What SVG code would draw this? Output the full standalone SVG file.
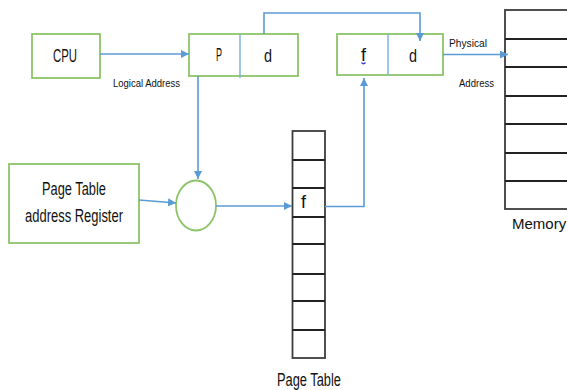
<svg xmlns="http://www.w3.org/2000/svg" width="567" height="390" viewBox="0 0 567 390">
<defs>
<style>
.box{fill:#fff;stroke:#8CC46A;stroke-width:1.8}
.div{stroke:#7EB3E0;stroke-width:1.5}
.con{fill:none;stroke:#5B9BD5;stroke-width:1.6}
.tbl{fill:#fff;stroke:#3C3C3C;stroke-width:1.8}
.row{stroke:#222;stroke-width:1.8}
text{font-family:"Liberation Sans",Arial,sans-serif;fill:#111}
.big{font-size:17.5px}
.sm{font-size:10px}
</style>
<marker id="ah" viewBox="0 0 10 10" refX="10" refY="5" markerWidth="8" markerHeight="8" markerUnits="userSpaceOnUse" orient="auto">
<path d="M0,0 L10,5 L0,10 z" fill="#5B9BD5"/>
</marker>
</defs>
<rect width="567" height="390" fill="#fff"/>

<g id="cpu">
<rect class="box" x="32" y="34" width="68" height="44"/>
<text class="big" x="53" y="62" textLength="24" lengthAdjust="spacingAndGlyphs">CPU</text>
</g>

<g id="logical">
<rect class="box" x="189" y="34" width="109" height="42"/>
<line class="div" x1="240" y1="34" x2="240" y2="78"/>
<text class="big" x="216" y="61" textLength="6" lengthAdjust="spacingAndGlyphs">P</text>
<text class="big" x="264" y="62" textLength="8" lengthAdjust="spacingAndGlyphs">d</text>
</g>

<g id="physical">
<rect class="box" x="337" y="34" width="106" height="41"/>
<line class="div" x1="388" y1="34" x2="388" y2="75"/>
<text class="big" x="361" y="61" textLength="5" lengthAdjust="spacingAndGlyphs">f</text>
<path d="M361.5,62.5 q2,2.5 4,0" fill="none" stroke="#3B3BE0" stroke-width="1.3"/>
<text class="big" x="409" y="62" textLength="8" lengthAdjust="spacingAndGlyphs">d</text>
</g>

<g id="ptar">
<rect class="box" x="9" y="164" width="130" height="79"/>
<text class="big" x="42" y="195" textLength="64" lengthAdjust="spacingAndGlyphs">Page Table</text>
<text class="big" x="25" y="222" textLength="98" lengthAdjust="spacingAndGlyphs">address Register</text>
</g>

<g id="adder">
<ellipse cx="196" cy="205.5" rx="20" ry="25" fill="#fff" stroke="#8CC46A" stroke-width="1.8"/>
</g>

<g id="pagetable">
<rect class="tbl" x="292.5" y="131" width="32.5" height="227"/>
<line class="row" x1="292.5" y1="160" x2="325" y2="160"/>
<line class="row" x1="292.5" y1="188" x2="325" y2="188"/>
<line class="row" x1="292.5" y1="217" x2="325" y2="217"/>
<line class="row" x1="292.5" y1="244" x2="325" y2="244"/>
<line class="row" x1="292.5" y1="274" x2="325" y2="274"/>
<line class="row" x1="292.5" y1="301" x2="325" y2="301"/>
<line class="row" x1="292.5" y1="330" x2="325" y2="330"/>
<text class="big" x="301" y="208" textLength="5" lengthAdjust="spacingAndGlyphs">f</text>
<text class="big" x="277" y="386" textLength="64" lengthAdjust="spacingAndGlyphs">Page Table</text>
</g>

<g id="memory">
<rect class="tbl" x="505" y="10" width="70" height="199"/>
<line class="row" x1="505" y1="39" x2="567" y2="39"/>
<line class="row" x1="505" y1="67" x2="567" y2="67"/>
<line class="row" x1="505" y1="96" x2="567" y2="96"/>
<line class="row" x1="505" y1="124" x2="567" y2="124"/>
<line class="row" x1="505" y1="153" x2="567" y2="153"/>
<line class="row" x1="505" y1="181" x2="567" y2="181"/>
<text x="512" y="229" style="font-size:15px">Memory</text>
</g>

<g id="connectors">
<line class="con" x1="100" y1="54" x2="189" y2="54" marker-end="url(#ah)"/>
<text class="sm" x="113" y="87" textLength="67" lengthAdjust="spacingAndGlyphs">Logical Address</text>
<path class="con" d="M264,34 V13 H420 V41" marker-end="url(#ah)"/>
<line class="con" x1="198" y1="76" x2="198" y2="179" marker-end="url(#ah)"/>
<line class="con" x1="139" y1="200" x2="176" y2="203" marker-end="url(#ah)"/>
<line class="con" x1="216" y1="206" x2="292" y2="206" marker-end="url(#ah)"/>
<path class="con" d="M325,206.5 H364 V78" marker-end="url(#ah)"/>
<line class="con" x1="443" y1="54.5" x2="508" y2="54.5" marker-end="url(#ah)"/>
<text class="sm" x="449" y="47" textLength="38" lengthAdjust="spacingAndGlyphs">Physical</text>
<text class="sm" x="459" y="87" textLength="35" lengthAdjust="spacingAndGlyphs">Address</text>
</g>
</svg>
